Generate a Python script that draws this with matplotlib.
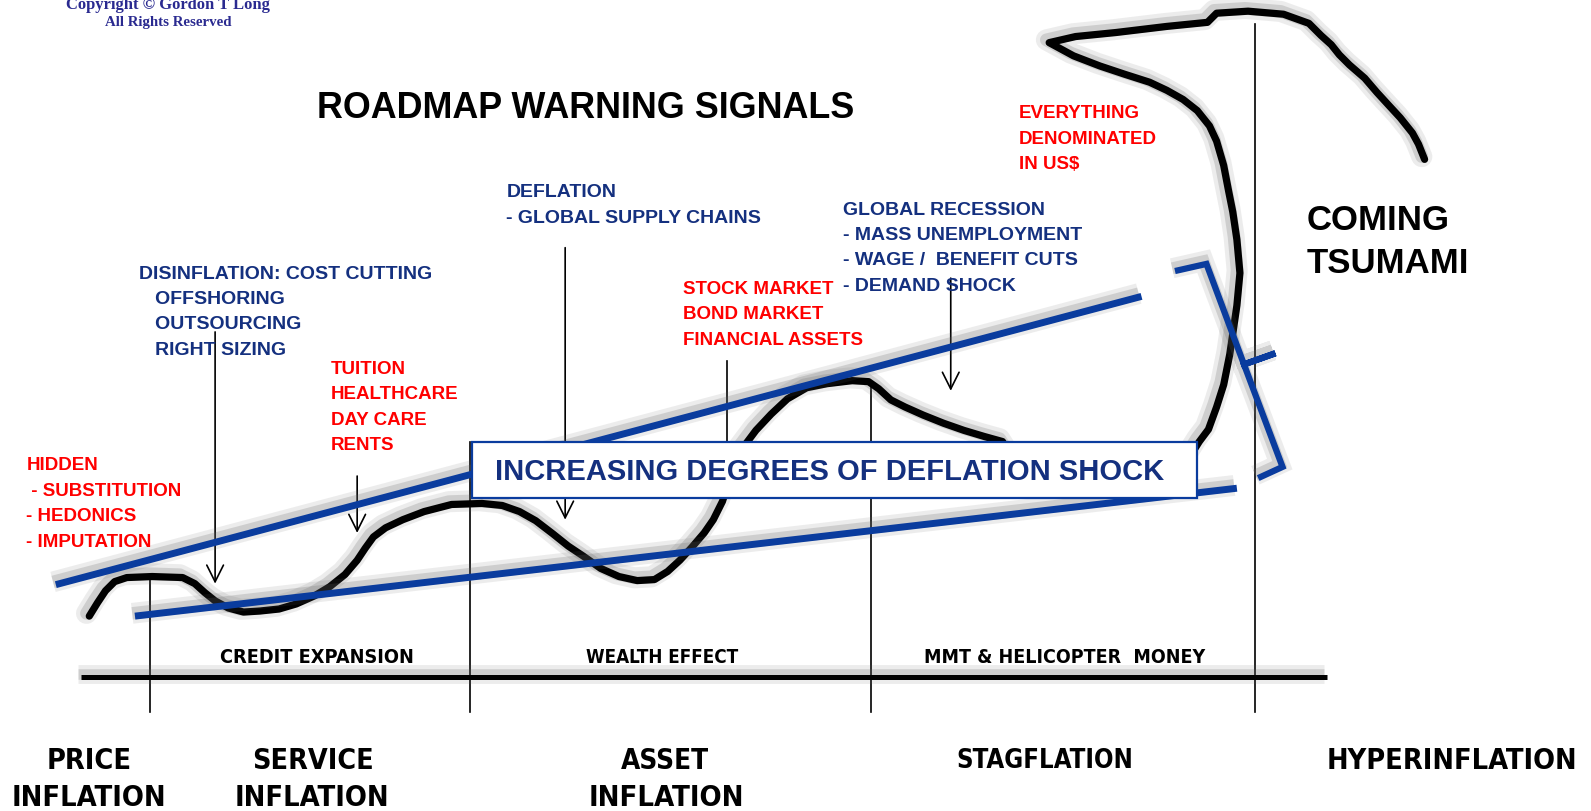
import matplotlib.pyplot as plt
from matplotlib import patheffects as pe
from matplotlib import font_manager
from matplotlib.patches import Rectangle

# canvas units follow the reference picture (1568 x 800, y downwards)
W, H = 1568, 800

# the hand drawn "roadmap" curve
curve_x = [88, 96, 104, 113, 125, 150, 180, 192, 202, 212, 225, 240, 256, 275, 292, 310,
           325, 340, 352, 360, 368, 380, 397, 418, 445, 475, 495, 512, 528, 545, 560,
           575, 592, 610, 628, 645, 658, 670, 682, 694, 703, 712, 720, 730, 745, 760,
           776, 795, 815, 840, 856, 866, 878, 892, 910, 930, 950, 970, 988,
           1000, 1170, 1182, 1191, 1199, 1206, 1212, 1219, 1222, 1219, 1215, 1211, 1206,
           1199, 1192, 1180, 1166, 1150, 1133, 1108, 1084, 1058, 1034, 1060, 1100, 1150,
           1190, 1199, 1230, 1265, 1290, 1302, 1312, 1320, 1330, 1345, 1357, 1368, 1380,
           1392, 1398, 1404]
curve_y = [608, 595, 583, 574, 570, 569, 570, 576, 585, 593, 600, 604, 603, 601, 596, 588,
           579, 567, 553, 541, 530, 521, 513, 505, 498, 497, 499, 505, 514, 527, 539,
           549, 561, 569, 573, 572, 564, 553, 540, 526, 513, 495, 470, 445, 425, 409,
           394, 383, 379, 376, 377, 384, 395, 402, 410, 418, 425, 431, 436,
           455, 455, 436, 424, 402, 380, 350, 302, 270, 237, 210, 190, 164,
           140, 125, 110, 99, 90, 82, 74, 66, 56, 43, 37, 33, 27,
           23, 14, 12, 15, 24, 36, 45, 55, 65, 78, 92, 104, 117,
           132, 143, 158]

# the two blue trend lines
upper_x = [55, 1125]
upper_y = [577, 293]
lower_x = [133, 1219]
lower_y = [608, 482]

# right brace
brace_x = [1158, 1189, 1226, 1257, 1226, 1264, 1240]
brace_y = [268, 261, 360, 349, 360, 461, 472]

# baseline and period dividers
axis_x = [80, 1308]
axis_y = 668
divider_x = [148, 463, 858, 1237]
divider_top = [572, 436, 380, 25]
divider_bottom = 702

# pointer lines (x, start, end, with_head)
pointers = [(212, 328, 576, True), (352, 470, 526, True), (557, 245, 513, True),
            (716, 357, 480, False), (937, 275, 386, True)]

navy = '#14307f'
red = '#ff0000'
blue = '#0a3c9e'

red_notes = [
    (26, 459, ['HIDDEN', ' - SUBSTITUTION', '- HEDONICS', '- IMPUTATION']),
    (326, 364, ['TUITION', 'HEALTHCARE', 'DAY CARE', 'RENTS']),
    (673, 285, ['STOCK MARKET', 'BOND MARKET', 'FINANCIAL ASSETS']),
    (1004, 112, ['EVERYTHING', 'DENOMINATED', 'IN US$']),
]
blue_notes = [
    (137, 270, ['DISINFLATION: COST CUTTING', '   OFFSHORING', '   OUTSOURCING', '   RIGHT SIZING']),
    (499, 190, ['DEFLATION', '- GLOBAL SUPPLY CHAINS']),
    (831, 207, ['GLOBAL RECESSION', '- MASS UNEMPLOYMENT', '- WAGE /  BENEFIT CUTS', '- DEMAND SHOCK']),
]
band_labels = ['CREDIT EXPANSION', 'WEALTH EFFECT', 'MMT & HELICOPTER  MONEY']
band_x = [312, 653, 1049]
band_w = [192, 151, 279]
# stage labels: (text, centre x, centre y, width in the reference)
stage_lines = [('PRICE', 88, 750, 84), ('INFLATION', 88, 786, 153),
               ('SERVICE', 308, 750, 120), ('INFLATION', 307, 786, 153),
               ('ASSET', 655, 750, 87), ('INFLATION', 657, 786, 154),
               ('STAGFLATION', 1030, 750, 174), ('HYPERINFLATION', 1431, 750, 247)]


def shadow(lw):
    return [pe.SimpleLineShadow(offset=(-2, 2), shadow_color='#666666', alpha=0.12, linewidth=lw + 10),
            pe.SimpleLineShadow(offset=(-2, 2), shadow_color='#666666', alpha=0.22, linewidth=lw + 4),
            pe.Normal()]


# a narrow bold face if there is one, else the normal bold
narrow = None
for f in font_manager.fontManager.ttflist:
    if f.weight in ('bold', 700) and ('Narrow' in f.name or f.stretch == 'condensed'):
        narrow = font_manager.FontProperties(fname=f.fname)
        break
if narrow is None:
    narrow = font_manager.FontProperties(family='Liberation Sans', weight='bold')

fig = plt.figure(figsize=(15.91, 8.12), dpi=100)
ax = fig.add_axes([0, 0, 1, 1])
ax.set_xlim(0, W)
ax.set_ylim(H, 0)
ax.axis('off')
renderer = fig.canvas.get_renderer()
px = 1591 / W


def fitted(x, y, s, width, maxsize):
    t = ax.text(x, y, s, fontproperties=narrow, ha='center', va='center', zorder=8)
    t.set_fontsize(maxsize)
    w = t.get_window_extent(renderer).width
    t.set_fontsize(min(maxsize, maxsize * width * px / w))
    return t


sans = 'Liberation Sans'

# dividers and pointers
for x, top in zip(divider_x, divider_top):
    ax.plot([x, x], [top, divider_bottom], color='black', lw=1.2, zorder=2)
for x, y0, y1, head in pointers:
    if head:
        ax.annotate('', xy=(x, y1), xytext=(x, y0), zorder=2,
                    arrowprops=dict(arrowstyle='->,head_length=0.6,head_width=0.3', lw=1.2,
                                    color='black', mutation_scale=20, shrinkA=0, shrinkB=0))
    else:
        ax.plot([x, x], [y0, y1], color='black', lw=1.2, zorder=2)

ax.plot(axis_x, [axis_y, axis_y], color='black', lw=3.6, solid_capstyle='butt',
        path_effects=shadow(3.6), zorder=3)

ax.plot(curve_x, curve_y, color='black', lw=5.2, solid_joinstyle='round',
        solid_capstyle='round', path_effects=shadow(5.2), zorder=3)

for xs, ys in [(upper_x, upper_y), (lower_x, lower_y)]:
    ax.plot(xs, ys, color=blue, lw=5, solid_capstyle='butt', path_effects=shadow(5), zorder=4)
ax.plot(brace_x, brace_y, color=blue, lw=4.5, solid_joinstyle='miter', solid_capstyle='butt',
        path_effects=shadow(4.5), zorder=4)

# deflation shock box
ax.add_patch(Rectangle((465, 436), 715, 56, facecolor='white', edgecolor=blue, lw=1.6, zorder=6))
ax.text(818, 465, 'INCREASING DEGREES OF DEFLATION SHOCK', color=navy, fontsize=21,
        fontweight='bold', family=sans, ha='center', va='center', zorder=7)

# notes
for x, y, lines in red_notes:
    for i, s in enumerate(lines):
        ax.text(x, y + 25 * i, s, color=red, fontsize=13.5, fontweight='bold', family=sans,
                ha='left', va='center', zorder=8)
for x, y, lines in blue_notes:
    for i, s in enumerate(lines):
        ax.text(x, y + 25 * i, s, color=navy, fontsize=14, fontweight='bold', family=sans,
                ha='left', va='center', zorder=8)

ax.text(312, 107, 'ROADMAP WARNING SIGNALS', fontsize=25.8, fontweight='bold', family=sans,
        ha='left', va='center', zorder=8)
ax.text(1288, 217, 'COMING', fontsize=25, fontweight='bold', family=sans, ha='left', va='center')
ax.text(1288, 260, 'TSUMAMI', fontsize=25, fontweight='bold', family=sans, ha='left', va='center')

for s, x, w in zip(band_labels, band_x, band_w):
    fitted(x, 648, s, w, 16)
for s, x, y, w in stage_lines:
    fitted(x, y, s, w, 25)

# copyright mark
ax.text(166, 9, 'Copyright \u00a9 Gordon T Long', color='#2a2a90', fontsize=12,
        fontweight='bold', family='Liberation Serif', ha='center', va='baseline')
ax.text(166, 22, 'All Rights Reserved', color='#2a2a90', fontsize=10.7,
        fontweight='bold', family='Liberation Serif', ha='center', va='center')

fig.savefig('out.png', dpi=100)
